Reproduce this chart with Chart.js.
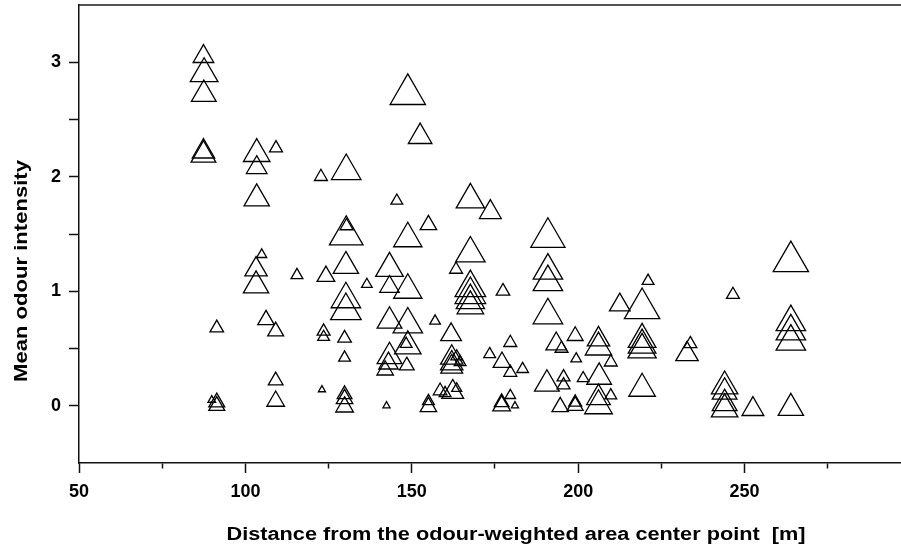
<!DOCTYPE html>
<html lang="en">
<head>
<meta charset="UTF-8">
<title>Mean odour intensity vs distance</title>
<style>
  html, body { margin: 0; padding: 0; background: #fff; }
  #wrap { width: 901px; height: 552px; }
</style>
</head>
<body>
<div id="wrap">
  <canvas id="odourChart" width="901" height="552"></canvas>
</div>

<script src="https://cdn.jsdelivr.net/npm/chart.js@4.4.1/dist/chart.umd.min.js"></script>
<script>
// distance from the odour-weighted centre point [m]
var distance = [
  87.4, 87.6, 87.5, 87.4, 87.4, 91.4, 91.4, 91.4, 89.9, 103.4,
  103.4, 103.4, 103.2, 103.2, 104.9, 106.2, 109.1, 109.1, 109.1, 109.2,
  115.5, 122.7, 123.5, 123.5, 123.0, 124.2, 130.3, 130.4, 130.3, 130.2,
  130.2, 130.2, 129.8, 129.8, 129.8, 129.8, 129.8, 136.5, 143.3, 143.3,
  143.3, 143.3, 143.0, 142.0, 142.4, 145.5, 148.8, 148.8, 148.8, 148.8,
  148.8, 148.3, 148.5, 152.5, 155.0, 157.0, 155.0, 155.0, 161.8, 162.0,
  162.0, 162.0, 163.5, 164.5, 158.5, 162.3, 160.0, 163.5, 163.3, 167.6,
  167.6, 167.6, 167.6, 167.6, 167.6, 173.6, 173.4, 177.1, 177.4, 177.0,
  177.0, 181.0, 179.6, 179.6, 179.6, 183.3, 190.9, 190.9, 190.9, 190.9,
  190.6, 193.4, 195.0, 195.6, 195.6, 194.6, 199.1, 199.4, 199.1, 199.1,
  201.5, 206.1, 206.1, 206.3, 206.1, 206.1, 209.8, 209.8, 212.5, 221.0,
  219.2, 219.2, 219.2, 219.2, 219.2, 232.7, 233.7, 244.0, 244.0, 244.0,
  244.0, 246.5, 252.5, 263.9, 263.9, 263.9, 263.9, 263.9
];

// mean odour intensity
var intensity = [
  3.05, 2.90, 2.72, 2.22, 2.19, 0.68, 0.03, 0.00, 0.05, 2.20,
  2.08, 1.81, 1.19, 1.05, 1.32, 0.75, 0.65, 0.22, 0.04, 2.25,
  1.14, 2.00, 0.65, 0.60, 0.14, 1.13, 2.05, 1.57, 1.49, 1.22,
  0.93, 0.83, 0.59, 0.42, 0.10, 0.06, -0.01, 1.06, 1.20, 1.04,
  0.74, 0.43, 0.37, 0.31, 0.00, 1.79, 2.72, 1.46, 1.01, 0.71,
  0.52, 0.54, 0.35, 2.35, 1.58, 0.74, -0.01, 0.04, 0.62, 0.42,
  0.37, 0.34, 0.43, 0.38, 0.13, 0.12, 0.11, 0.15, 1.19, 1.80,
  1.33, 1.03, 0.97, 0.92, 0.87, 1.69, 0.45, 0.38, 1.00, 0.00,
  0.03, 0.00, 0.55, 0.29, 0.09, 0.32, 1.47, 1.18, 1.08, 0.79,
  0.19, 0.54, 0.50, 0.25, 0.18, -0.01, 0.61, 0.41, 0.00, 0.03,
  0.24, 0.58, 0.51, 0.25, 0.07, 0.00, 0.38, 0.09, 0.88, 1.09,
  0.85, 0.58, 0.53, 0.49, 0.15, 0.45, 0.54, 0.17, 0.12, 0.02,
  -0.03, 0.97, -0.03, 1.26, 0.73, 0.65, 0.56, -0.02
];

// relative marker weight (third variable, shown by triangle size)
var weight = [
  3.5, 4.7, 4.2, 3.8, 4.2, 2.3, 2.7, 2.7, 1.3, 4.5,
  3.5, 4.3, 3.8, 4.3, 1.7, 2.8, 2.7, 2.5, 3.0, 2.2,
  2.0, 2.2, 2.2, 2.0, 1.2, 3.0, 5.0, 2.2, 5.7, 4.3,
  5.0, 5.2, 2.3, 2.0, 2.5, 2.8, 3.0, 1.8, 4.7, 3.3,
  4.2, 4.2, 3.3, 2.8, 1.2, 2.0, 6.0, 4.8, 4.8, 5.0,
  4.5, 2.0, 2.5, 4.0, 2.8, 1.8, 2.8, 2.0, 3.5, 3.8,
  3.8, 3.7, 2.0, 2.0, 2.3, 3.7, 2.0, 1.7, 2.2, 4.8,
  5.0, 5.2, 5.2, 4.8, 4.5, 3.7, 2.0, 3.0, 2.3, 3.0,
  2.5, 1.2, 2.2, 2.2, 1.8, 2.0, 5.8, 5.0, 5.0, 5.0,
  4.2, 3.5, 2.2, 2.2, 2.2, 2.8, 2.7, 1.8, 2.7, 2.2,
  2.0, 3.8, 4.5, 4.2, 4.0, 4.7, 2.2, 2.0, 3.5, 2.0,
  6.0, 4.7, 4.7, 4.8, 4.5, 3.8, 2.2, 4.5, 4.2, 4.2,
  4.5, 2.2, 3.7, 6.0, 5.0, 5.0, 5.0, 4.3
];

var xTitle = 'Distance from the odour-weighted area center point  [m]';
var yTitle = 'Mean odour intensity';

var labelFont = { family: '"Liberation Sans", Arial, sans-serif', size: 18, weight: 'bold' };

// axis titles sit off-centre in the original, so draw them ourselves
var axisTitles = {
  id: 'axisTitles',
  afterDraw: function(chart) {
    var ctx = chart.ctx;
    ctx.save();
    ctx.fillStyle = '#000';
    ctx.font = 'bold 18px "Liberation Sans", Arial, sans-serif';
    ctx.textAlign = 'center';
    ctx.textBaseline = 'middle';

    var w = ctx.measureText(xTitle).width;
    ctx.translate(516, 535);
    ctx.scale(579 / w, 1);
    ctx.fillText(xTitle, 0, 0);
    ctx.restore();

    ctx.save();
    ctx.fillStyle = '#000';
    ctx.font = 'bold 18px "Liberation Sans", Arial, sans-serif';
    ctx.textAlign = 'center';
    ctx.textBaseline = 'middle';
    w = ctx.measureText(yTitle).width;
    ctx.translate(22, 271);
    ctx.rotate(-Math.PI / 2);
    ctx.scale(222 / w, 1);
    ctx.fillText(yTitle, 0, 0);
    ctx.restore();
  }
};

var points = distance.map(function(d, i) {
  return { x: d, y: intensity[i] };
});

var ctx = document.getElementById('odourChart');
var chart = new Chart(ctx, {
  type: 'scatter',
  data: {
    datasets: [{
      data: points,
      pointStyle: 'triangle',
      pointRadius: function(c) { return weight[c.dataIndex] * 3.4; },
      pointHoverRadius: function(c) { return weight[c.dataIndex] * 3.4; },
      pointBorderColor: '#000',
      pointBackgroundColor: 'rgba(0,0,0,0)',
      pointBorderWidth: 1.3,
      showLine: false,
      clip: false
    }]
  },
  options: {
    responsive: false,
    animation: false,
    devicePixelRatio: 1,
    layout: { autoPadding: false, padding: { top: 5, right: 0, bottom: 0, left: 0 } },
    plugins: {
      legend: { display: false },
      tooltip: { enabled: false }
    },
    scales: {
      x: {
        type: 'linear',
        position: 'bottom',
        min: 50,
        max: 297,
        afterFit: function(s) { s.height = 89; s.paddingLeft = 0; s.paddingRight = 0; },
        border: { display: true, color: '#111', width: 1.5 },
        grid: {
          drawOnChartArea: false,
          drawTicks: true,
          tickLength: 10,
          tickWidth: 1.5,
          tickColor: '#111',
          tickBorderDash: function(c) {
            return (c.tick && c.tick.value % 50 === 0) ? [] : [5, 50];
          }
        },
        ticks: {
          stepSize: 25,
          includeBounds: false,
          autoSkip: false,
          maxRotation: 0,
          padding: 8,
          color: '#000',
          font: labelFont,
          callback: function(v) { return v % 50 === 0 ? v : ''; }
        }
      },
      xTop: {
        type: 'linear',
        position: 'top',
        min: 50,
        max: 297,
        afterFit: function(s) { s.height = 0; s.paddingLeft = 0; s.paddingRight = 0; },
        border: { display: true, color: '#555', width: 2 },
        grid: { display: false, drawTicks: false },
        ticks: { display: false }
      },
      y: {
        type: 'linear',
        min: -0.5,
        max: 3.5,
        afterFit: function(s) { s.width = 79; s.paddingTop = 0; s.paddingBottom = 0; },
        border: { display: true, color: '#111', width: 1.5 },
        grid: {
          drawOnChartArea: false,
          drawTicks: true,
          tickLength: 10,
          tickWidth: 1.5,
          tickColor: function(c) {
            if (c.tick && (c.tick.value <= -0.5 || c.tick.value >= 3.5)) return 'rgba(0,0,0,0)';
            return '#111';
          }
        },
        ticks: {
          stepSize: 0.5,
          includeBounds: false,
          autoSkip: false,
          padding: 8,
          color: '#000',
          font: labelFont,
          callback: function(v) { return Number.isInteger(v) ? v : ''; }
        }
      }
    }
  },
  plugins: [axisTitles]
});
</script>
</body>
</html>
